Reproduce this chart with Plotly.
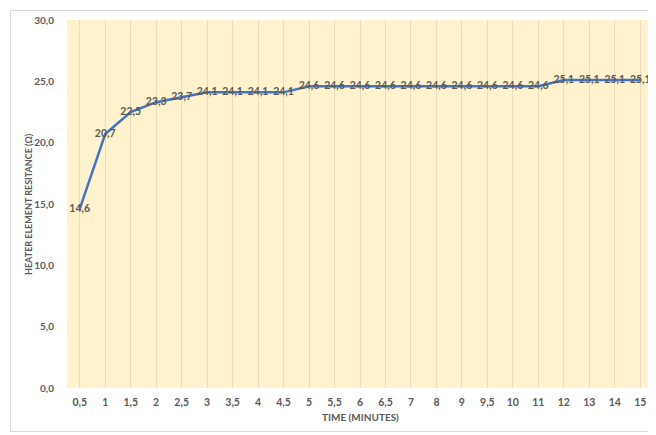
import plotly.graph_objects as go

time_labels = ["0,5", "1", "1,5", "2", "2,5", "3", "3,5", "4", "4,5", "5", "5,5", "6",
               "6,5", "7", "8", "9", "9,5", "10", "11", "12", "13", "14", "15"]
resistance = [14.6, 20.7, 22.5, 23.3, 23.7, 24.1, 24.1, 24.1, 24.1, 24.6, 24.6, 24.6,
              24.6, 24.6, 24.6, 24.6, 24.6, 24.6, 24.6, 25.1, 25.1, 25.1, 25.1]
y_ticks = [0, 5, 10, 15, 20, 25, 30]
x_title = "TIME (MINUTES)"
y_title = "HEATER ELEMENT RESITANCE (Ω)"

FONT = "Lato"
GRAY = "#595959"

# page body adds an 8px offset, so the figure is 8px smaller than the window
W, H = 648, 427
L, R, T, B = 59, 3, 12, 47
PW, PH = W - L - R, H - T - B

fig = go.Figure()
fig.add_trace(go.Scatter(
    x=time_labels, y=resistance, mode="lines+text",
    line=dict(color="#4472C4", width=2.5),
    text=[f"{v:.1f}".replace(".", ",") for v in resistance],
    textposition="middle center",
    textfont=dict(family=FONT, size=10.5, color=GRAY, weight="bold"),
    cliponaxis=False, hoverinfo="skip"))

fig.update_layout(
    width=W, height=H,
    margin=dict(l=L, r=R, t=T, b=B),
    paper_bgcolor="white", plot_bgcolor="#FFF2CC",
    showlegend=False,
    separators=",.",
    font=dict(family=FONT, color=GRAY),
    xaxis=dict(type="category", range=[-0.5, len(time_labels) - 0.5], autorange=False,
               showgrid=True, gridcolor="#E8DDC0", gridwidth=1,
               showline=False, ticks="", ticklabelstandoff=6,
               automargin=False,
               tickfont=dict(family=FONT, size=10.5, color=GRAY, weight="bold"),
               zeroline=False, fixedrange=True),
    yaxis=dict(range=[0, 30], tickvals=y_ticks, tickformat=".1f", showgrid=False,
               zeroline=False, showline=False, ticks="", automargin=False,
               ticklabelstandoff=12,
               tickfont=dict(family=FONT, size=10, color=GRAY, weight="bold"),
               fixedrange=True),
)

fig.add_annotation(text=y_title, xref="paper", yref="paper",
                   x=(20 - L) / PW, y=0.5, xanchor="center", yanchor="middle",
                   textangle=-90, showarrow=False,
                   font=dict(family=FONT, size=9, color=GRAY, weight="bold"))
fig.add_annotation(text=x_title, xref="paper", yref="paper",
                   x=0.5, y=((H - B) - 409) / PH, xanchor="center", yanchor="middle",
                   showarrow=False,
                   font=dict(family=FONT, size=10, color=GRAY, weight="bold"))

fig.add_shape(type="rect", xref="paper", yref="paper",
              x0=(2.5 - L) / PW, x1=(652 - L) / PW,
              y0=((H - B) - 423.5) / PH, y1=((H - B) - 2.5) / PH,
              line=dict(color="#D9D9D9", width=1), fillcolor="rgba(0,0,0,0)", layer="below")

fig.write_html("out.html")
